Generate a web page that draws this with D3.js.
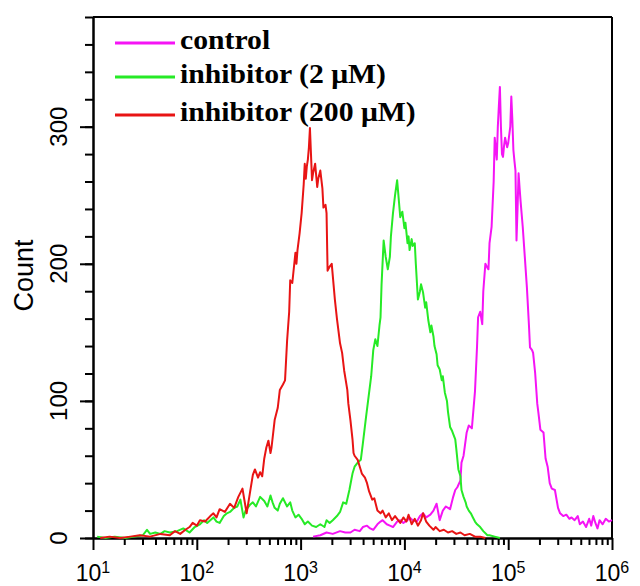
<!DOCTYPE html>
<html>
<head>
<meta charset="utf-8">
<script src="https://cdn.jsdelivr.net/npm/d3@7"></script>
<style>
  body { margin: 0; background: #fff; }
  .axis path, .axis line { stroke: #000; stroke-width: 2; }
  .tickLabel { font-family: "Liberation Sans", Arial, sans-serif; fill: #000; }
  .legendText { font-family: "Liberation Serif", "Times New Roman", serif; font-weight: bold; font-size: 27px; fill: #000; }
</style>
</head>
<body>
<div id="chart"></div>
<script>
// Each series: [log10 fluorescence, count]
var controlData = [[3.12,1],[3.19,2],[3.25,4],[3.31,3],[3.38,5],[3.43,4],[3.48,4],[3.52,6],[3.57,5],[3.60,8],[3.64,9],[3.67,7],[3.70,6],[3.74,10],[3.77,12],[3.79,13],[3.83,10],[3.86,9],[3.89,8],[3.93,12],[3.96,13],[3.99,11],[4.03,13],[4.05,15],[4.08,13],[4.12,12],[4.15,16],[4.18,18],[4.21,15],[4.25,17],[4.28,20],[4.31,25],[4.34,13],[4.37,20],[4.40,23],[4.44,21],[4.47,30],[4.49,35],[4.51,37],[4.54,42],[4.55,55],[4.57,60],[4.60,77],[4.62,82],[4.65,80],[4.68,107],[4.70,140],[4.71,161],[4.73,165],[4.75,156],[4.76,180],[4.78,200],[4.80,197],[4.81,196],[4.82,215],[4.84,227],[4.86,260],[4.87,292],[4.89,276],[4.90,300],[4.91,315],[4.92,329],[4.93,300],[4.94,280],[4.95,278],[4.96,286],[4.97,292],[4.99,285],[5.00,288],[5.02,300],[5.03,322],[5.04,305],[5.05,283],[5.06,275],[5.07,268],[5.08,217],[5.09,240],[5.10,266],[5.11,255],[5.12,245],[5.14,227],[5.16,205],[5.18,183],[5.20,155],[5.21,139],[5.23,137],[5.24,135],[5.26,120],[5.28,98],[5.29,92],[5.31,79],[5.34,77],[5.36,58],[5.38,52],[5.40,40],[5.42,36],[5.45,35],[5.48,22],[5.50,18],[5.53,16],[5.56,17],[5.59,14],[5.61,15],[5.64,13],[5.67,16],[5.69,10],[5.72,12],[5.75,8],[5.78,14],[5.80,9],[5.82,16],[5.84,11],[5.86,7],[5.88,13],[5.91,10],[5.94,14],[5.97,12],[6.00,13]];

var lowDoseData = [[1.04,1],[1.12,0],[1.21,1],[1.31,0],[1.40,1],[1.48,2],[1.52,6],[1.55,3],[1.60,4],[1.65,3],[1.69,5],[1.74,4],[1.81,5],[1.87,7],[1.91,5],[1.93,4],[1.98,8],[2.03,10],[2.07,13],[2.10,11],[2.13,13],[2.16,15],[2.19,12],[2.22,11],[2.26,16],[2.29,18],[2.32,19],[2.36,22],[2.39,23],[2.42,28],[2.45,15],[2.47,20],[2.51,24],[2.54,26],[2.57,23],[2.61,30],[2.65,27],[2.68,23],[2.71,31],[2.73,26],[2.75,22],[2.78,20],[2.80,25],[2.83,29],[2.87,23],[2.90,26],[2.92,20],[2.95,15],[2.98,17],[3.01,14],[3.04,10],[3.07,12],[3.11,9],[3.15,8],[3.19,10],[3.23,8],[3.25,13],[3.28,11],[3.31,13],[3.35,16],[3.38,19],[3.41,26],[3.44,25],[3.47,35],[3.49,43],[3.50,47],[3.52,52],[3.55,55],[3.58,57],[3.60,69],[3.63,88],[3.65,100],[3.68,118],[3.70,137],[3.72,145],[3.74,140],[3.76,155],[3.77,161],[3.78,185],[3.80,217],[3.82,205],[3.84,196],[3.86,205],[3.87,220],[3.89,237],[3.91,250],[3.93,261],[3.94,252],[3.96,234],[3.98,238],[4.00,226],[4.01,230],[4.03,215],[4.04,220],[4.05,210],[4.07,218],[4.08,213],[4.10,215],[4.11,200],[4.13,174],[4.15,180],[4.16,185],[4.18,179],[4.20,168],[4.21,172],[4.23,159],[4.25,150],[4.26,155],[4.28,147],[4.29,140],[4.31,134],[4.32,126],[4.34,123],[4.36,115],[4.37,118],[4.39,106],[4.41,100],[4.42,92],[4.44,81],[4.46,78],[4.48,74],[4.49,72],[4.50,65],[4.52,50],[4.54,45],[4.55,35],[4.57,30],[4.59,26],[4.60,23],[4.62,20],[4.64,18],[4.66,15],[4.68,12],[4.70,10],[4.73,8],[4.76,5],[4.80,2],[4.82,2],[4.87,1],[4.92,0]];

var highDoseData = [[1.07,0],[1.16,1],[1.26,0],[1.36,1],[1.45,2],[1.55,1],[1.65,3],[1.74,2],[1.79,5],[1.84,3],[1.89,6],[1.93,8],[1.96,11],[2.00,9],[2.03,13],[2.08,12],[2.13,16],[2.16,18],[2.19,15],[2.22,21],[2.27,19],[2.32,25],[2.36,22],[2.40,30],[2.44,36],[2.46,27],[2.48,18],[2.51,32],[2.54,46],[2.56,50],[2.59,44],[2.61,48],[2.63,45],[2.65,58],[2.67,66],[2.69,71],[2.71,62],[2.72,66],[2.75,86],[2.78,95],[2.80,108],[2.83,112],[2.85,115],[2.87,144],[2.89,165],[2.90,188],[2.92,186],[2.95,208],[2.96,200],[2.97,210],[2.99,222],[3.01,237],[3.03,258],[3.04,273],[3.05,262],[3.06,271],[3.07,276],[3.08,285],[3.09,299],[3.10,280],[3.11,261],[3.12,266],[3.14,273],[3.16,256],[3.17,262],[3.19,268],[3.21,255],[3.22,241],[3.24,243],[3.25,237],[3.26,195],[3.28,198],[3.30,200],[3.33,174],[3.35,160],[3.38,142],[3.40,135],[3.42,122],[3.45,108],[3.46,98],[3.48,86],[3.50,72],[3.51,62],[3.52,60],[3.55,57],[3.57,52],[3.59,47],[3.62,44],[3.64,40],[3.66,34],[3.69,28],[3.71,29],[3.74,20],[3.77,18],[3.79,20],[3.82,15],[3.85,18],[3.88,13],[3.91,16],[3.93,14],[3.96,11],[3.99,15],[4.02,12],[4.04,17],[4.07,10],[4.10,14],[4.13,9],[4.16,13],[4.18,18],[4.21,12],[4.24,9],[4.28,6],[4.30,8],[4.34,5],[4.38,6],[4.42,4],[4.46,5],[4.50,3],[4.54,4],[4.58,2],[4.63,3],[4.68,1],[4.73,1],[4.78,0]];

var seriesNames = ["control", "inhibitor (2 μM)", "inhibitor (200 μM)"];
var seriesColors = ["#f514f5", "#26ea26", "#e81414"];
var xDecades = [1, 2, 3, 4, 5, 6];
var yMajorTicks = [0, 100, 200, 300];
var yMax = 380;

var svgWidth = 640;
var svgHeight = 586;
var margin = { top: 17, right: 28, bottom: 48, left: 93 };
var chartWidth = svgWidth - margin.left - margin.right;
var chartHeight = svgHeight - margin.top - margin.bottom;

var svg = d3.select("#chart")
  .append("svg")
  .attr("width", svgWidth)
  .attr("height", svgHeight)
  .style("background", "#fff");

var chartGroup = svg.append("g")
  .attr("transform", `translate(${margin.left}, ${margin.top})`);

var xScale = d3.scaleLog()
  .domain([10, 1e6])
  .range([0, chartWidth]);

var yScale = d3.scaleLinear()
  .domain([0, yMax])
  .range([chartHeight, 0]);

// minor + major ticks on x
var minorX = [];
xDecades.slice(0, -1).forEach(function(k) {
  for (var m = 2; m <= 9; m++) minorX.push(m * Math.pow(10, k));
});
var majorX = xDecades.map(d => Math.pow(10, d));

chartGroup.append("g")
  .attr("class", "axis")
  .attr("transform", `translate(0, ${chartHeight})`)
  .call(d3.axisBottom(xScale).tickValues(minorX).tickSize(7).tickSizeOuter(0).tickFormat(""));

var xAxisMajor = chartGroup.append("g")
  .attr("class", "axis")
  .attr("transform", `translate(0, ${chartHeight})`)
  .call(d3.axisBottom(xScale).tickValues(majorX).tickSize(12).tickSizeOuter(0).tickFormat(""));

// y ticks every 20, labels every 100
chartGroup.append("g")
  .attr("class", "axis")
  .call(d3.axisLeft(yScale).tickValues(d3.range(0, yMax + 1, 20)).tickSize(8).tickSizeOuter(0).tickFormat(""));

chartGroup.append("g")
  .attr("class", "axis")
  .call(d3.axisLeft(yScale).tickValues(yMajorTicks).tickSize(13).tickSizeOuter(0).tickFormat(""));

// frame top and right
chartGroup.append("line")
  .attr("x1", 0).attr("x2", chartWidth)
  .attr("y1", yScale(yMax)).attr("y2", yScale(yMax))
  .attr("stroke", "#000").attr("stroke-width", 2);
chartGroup.append("line")
  .attr("x1", xScale(1e6)).attr("x2", xScale(1e6))
  .attr("y1", 0).attr("y2", chartHeight)
  .attr("stroke", "#000").attr("stroke-width", 2);

// x tick labels 10^k
var xLabels = chartGroup.selectAll(".xLabel")
  .data(xDecades)
  .enter()
  .append("text")
  .attr("class", "tickLabel")
  .attr("x", d => xScale(Math.pow(10, d)))
  .attr("y", chartHeight + 43)
  .attr("text-anchor", "middle")
  .style("font-size", "23px");
xLabels.append("tspan").text("10");
xLabels.append("tspan")
  .attr("dy", -8)
  .style("font-size", "16px")
  .text(d => d);

// y tick labels (rotated)
chartGroup.selectAll(".yLabel")
  .data(yMajorTicks)
  .enter()
  .append("text")
  .attr("class", "tickLabel")
  .attr("transform", d => `translate(-26, ${yScale(d)}) rotate(-90)`)
  .attr("text-anchor", "middle")
  .style("font-size", "24px")
  .text(d => d);

chartGroup.append("text")
  .attr("class", "tickLabel")
  .attr("transform", `translate(-60, ${chartHeight / 2 - 2}) rotate(-90)`)
  .attr("text-anchor", "middle")
  .style("font-size", "27px")
  .text("Count");

// histogram lines
var line = d3.line()
  .x(d => xScale(Math.pow(10, d[0])))
  .y(d => yScale(d[1]));

[controlData, lowDoseData, highDoseData].forEach(function(data, i) {
  chartGroup.append("path")
    .datum(data)
    .attr("fill", "none")
    .attr("stroke", seriesColors[i])
    .attr("stroke-width", 2)
    .attr("stroke-linejoin", "round")
    .attr("d", line);
});

// legend
var legendLineY = [26, 60, 98];
var legend = chartGroup.selectAll(".legend")
  .data(seriesNames)
  .enter()
  .append("g")
  .attr("transform", (d, i) => `translate(22, ${legendLineY[i]})`);

legend.append("line")
  .attr("x1", 0).attr("x2", 60)
  .attr("y1", 0).attr("y2", 0)
  .attr("stroke", (d, i) => seriesColors[i])
  .attr("stroke-width", 3);

legend.append("text")
  .attr("class", "legendText")
  .attr("transform", "translate(65, 6) scale(1.1, 1)")
  .text(d => d);
</script>
</body>
</html>
